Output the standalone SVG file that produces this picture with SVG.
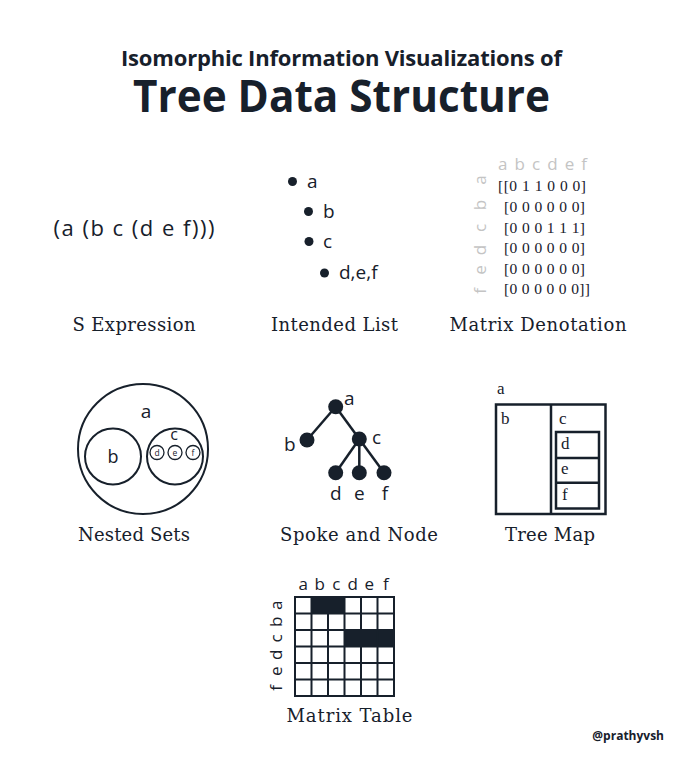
<svg xmlns="http://www.w3.org/2000/svg" width="683" height="759" viewBox="0 0 683 759">
<style>
.t{fill:#17202b;font-family:"Open Sans","Noto Sans",sans-serif;}
.title{font-weight:700;text-anchor:middle;}
.lbl{fill:#17202b;font-family:"DejaVu Serif","Liberation Serif",serif;font-size:18px;text-anchor:middle;}
.ser{fill:#17202b;font-family:"Liberation Serif",serif;}
.gray{fill:#c4c4c4;font-family:"Open Sans",sans-serif;font-size:17px;}
.ln{stroke:#17202b;fill:none;}
.dot{fill:#17202b;}
</style>
<rect width="683" height="759" fill="#ffffff"/>
<g id="title">
<text class="t title" x="341.5" y="66" font-size="22" textLength="441">Isomorphic Information Visualizations of</text>
<text class="t title" x="341.5" y="111.5" font-size="44" textLength="417" lengthAdjust="spacingAndGlyphs">Tree Data Structure</text>
</g>
<g id="s-expression">
<text class="t" x="134" y="236" font-size="22" text-anchor="middle" textLength="161">(a (b c (d e f)))</text>
<text class="lbl" x="134" y="331" textLength="123">S Expression</text>
</g>
<g id="intended-list">
<circle class="dot" cx="292.5" cy="181.5" r="4.5"/>
<text class="t" x="307" y="188" font-size="19">a</text>
<circle class="dot" cx="308.5" cy="211.5" r="4.5"/>
<text class="t" x="323" y="218" font-size="19">b</text>
<circle class="dot" cx="309" cy="241.5" r="4.5"/>
<text class="t" x="323" y="248" font-size="19">c</text>
<circle class="dot" cx="324.5" cy="273" r="4.5"/>
<text class="t" x="339" y="279" font-size="19">d,e,f</text>
<text class="lbl" x="334.5" y="331" textLength="127">Intended List</text>
</g>
<g id="matrix-denotation">
<text class="gray" x="498" y="170" textLength="89">a b c d e f</text>
<g class="gray" text-anchor="middle">
<text transform="translate(486,180) rotate(-90)">a</text>
<text transform="translate(486,205) rotate(-90)">b</text>
<text transform="translate(486,228) rotate(-90)">c</text>
<text transform="translate(486,250) rotate(-90)">d</text>
<text transform="translate(486,270) rotate(-90)">e</text>
<text transform="translate(486,291) rotate(-90)">f</text>
</g>
<g class="ser" font-size="15.5">
<text x="498" y="191" textLength="88">[[0 1 1 0 0 0]</text>
<text x="504" y="212" textLength="81">[0 0 0 0 0 0]</text>
<text x="504" y="232.5" textLength="81">[0 0 0 1 1 1]</text>
<text x="504" y="253" textLength="81">[0 0 0 0 0 0]</text>
<text x="504" y="273.5" textLength="81">[0 0 0 0 0 0]</text>
<text x="504" y="294" textLength="86">[0 0 0 0 0 0]]</text>
</g>
<text class="lbl" x="538" y="331" textLength="177">Matrix Denotation</text>
</g>
<g id="nested-sets">
<circle class="ln" cx="143" cy="449" r="65" stroke-width="2"/>
<text class="t" x="146" y="418" font-size="19" text-anchor="middle">a</text>
<circle class="ln" cx="113" cy="456.5" r="28" stroke-width="2"/>
<text class="t" x="113" y="463" font-size="18" text-anchor="middle">b</text>
<circle class="ln" cx="175" cy="456.5" r="28" stroke-width="2"/>
<text class="t" x="174" y="440" font-size="16" text-anchor="middle">c</text>
<circle class="ln" cx="157" cy="452.5" r="7" stroke-width="1.3"/>
<circle class="ln" cx="175" cy="452.5" r="7" stroke-width="1.3"/>
<circle class="ln" cx="193" cy="452.5" r="7" stroke-width="1.3"/>
<g class="t" font-size="8.5" text-anchor="middle">
<text x="157" y="455.5">d</text>
<text x="175" y="455.5">e</text>
<text x="193" y="455.5">f</text>
</g>
<text class="lbl" x="134" y="541" textLength="112">Nested Sets</text>
</g>
<g id="spoke-connectors" class="ln" stroke-width="2.5">
<line x1="335.7" y1="406.7" x2="307" y2="440"/>
<line x1="335.7" y1="406.7" x2="359.3" y2="439"/>
<line x1="359.3" y1="439" x2="335.7" y2="472.7"/>
<line x1="359.3" y1="439" x2="359.3" y2="472.7"/>
<line x1="359.3" y1="439" x2="384" y2="472.7"/>
</g>
<g id="spoke-node">
<circle class="dot" cx="335.7" cy="406.7" r="7.5"/>
<circle class="dot" cx="307" cy="440" r="7.5"/>
<circle class="dot" cx="359.3" cy="439" r="7.5"/>
<circle class="dot" cx="335.7" cy="472.7" r="7.5"/>
<circle class="dot" cx="359.3" cy="472.7" r="7.5"/>
<circle class="dot" cx="384" cy="472.7" r="7.5"/>
<g class="t" font-size="19">
<text x="344" y="405">a</text>
<text x="284" y="451">b</text>
<text x="372" y="444">c</text>
<text x="335.7" y="500" text-anchor="middle">d</text>
<text x="359.3" y="500" text-anchor="middle">e</text>
<text x="385" y="500" text-anchor="middle">f</text>
</g>
<text class="lbl" x="359" y="541" textLength="158">Spoke and Node</text>
</g>
<g id="tree-map">
<text class="ser" x="497" y="394" font-size="17">a</text>
<rect class="ln" x="496" y="404.5" width="109.5" height="109.5" stroke-width="2.5"/>
<line class="ln" x1="551" y1="404.5" x2="551" y2="514" stroke-width="2.5"/>
<text class="ser" x="501" y="424" font-size="17">b</text>
<text class="ser" x="559" y="424" font-size="17">c</text>
<rect class="ln" x="556" y="432" width="43" height="76.5" stroke-width="2.5"/>
<line class="ln" x1="556" y1="458" x2="599" y2="458" stroke-width="2.5"/>
<line class="ln" x1="556" y1="482.7" x2="599" y2="482.7" stroke-width="2.5"/>
<text class="ser" x="561" y="449" font-size="17">d</text>
<text class="ser" x="561" y="474" font-size="17">e</text>
<text class="ser" x="562" y="500" font-size="17">f</text>
<text class="lbl" x="550" y="541" textLength="90">Tree Map</text>
</g>
<g id="matrix-table">
<g class="t" font-size="17" text-anchor="middle">
<text x="303.3" y="590">a</text>
<text x="319.8" y="590">b</text>
<text x="336.3" y="590">c</text>
<text x="352.8" y="590">d</text>
<text x="369.3" y="590">e</text>
<text x="385.8" y="590">f</text>
</g>
<g class="t" font-size="17" text-anchor="middle">
<text transform="translate(282,605.3) rotate(-90)">a</text>
<text transform="translate(282,621.8) rotate(-90)">b</text>
<text transform="translate(282,638.3) rotate(-90)">c</text>
<text transform="translate(282,654.8) rotate(-90)">d</text>
<text transform="translate(282,671.3) rotate(-90)">e</text>
<text transform="translate(282,687.8) rotate(-90)">f</text>
</g>
<rect x="311.5" y="597" width="33" height="16.5" fill="#17202b"/>
<rect x="344.5" y="630" width="49.5" height="16.5" fill="#17202b"/>
<g class="ln" stroke-width="2">
<rect x="295" y="597" width="99" height="99"/>
<path d="M311.5 597V696M328 597V696M344.5 597V696M361 597V696M377.5 597V696M295 613.5H394M295 630H394M295 646.5H394M295 663H394M295 679.5H394"/>
</g>
<text class="lbl" x="349.5" y="722" textLength="126">Matrix Table</text>
</g>
<text class="t" x="664" y="740" font-size="12" font-weight="700" text-anchor="end">@prathyvsh</text>
</svg>
